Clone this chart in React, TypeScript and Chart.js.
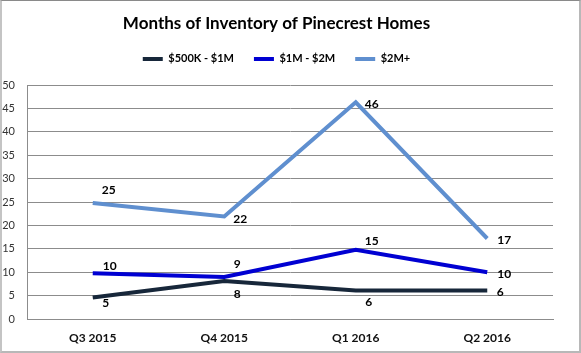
import React, { useEffect, useRef } from "react";
import { Chart, registerables } from "chart.js";

Chart.register(...registerables);

const categories = ["Q3 2015", "Q4 2015", "Q1 2016", "Q2 2016"];
const seriesNames = ["$500K - $1M", "$1M - $2M", "$2M+"];
const lowTier = [4.6, 8.1, 6.1, 6.1];
const midTier = [9.8, 9.0, 14.8, 10.0];
const highTier = [24.8, 21.9, 46.3, 17.2];
const yTicks = [0, 5, 10, 15, 20, 25, 30, 35, 40, 45, 50];

const COLORS = ["#17273a", "#0000d2", "#5f8fcf"];
const FONT = "Lato, 'Open Sans', sans-serif";

// label offsets (dx, dy) relative to each point, per dataset
const labelOffsets = [
  [[13, 6], [13, 13], [13, 12], [13, 2]],
  [[17, -7], [13, -13], [16, -9], [17, 2]],
  [[16, -13], [16, 3], [16, 2], [17, 2]],
];

const valueLabels = {
  id: "valueLabels",
  afterDatasetsDraw(chart: any) {
    const ctx = chart.ctx;
    ctx.save();
    ctx.font = `bold 12px ${FONT}`;
    ctx.fillStyle = "#000";
    ctx.textAlign = "center";
    ctx.textBaseline = "middle";
    chart.data.datasets.forEach((ds: any, di: number) => {
      const meta = chart.getDatasetMeta(di);
      meta.data.forEach((pt: any, i: number) => {
        const [dx, dy] = labelOffsets[di][i];
        ctx.fillText(String(Math.round(ds.data[i])), pt.x + dx, pt.y + dy);
      });
    });
    ctx.restore();
  },
};

// add extra space below the legend row
const legendSpacer = {
  id: "legendSpacer",
  beforeLayout(chart: any) {
    const lg = chart.legend;
    if (lg && !lg._spaced) {
      const orig = lg.fit.bind(lg);
      lg.fit = function () {
        orig();
        this.height += 10.6;
      };
      lg._spaced = true;
    }
  },
};

export default function App() {
  const ref = useRef<HTMLCanvasElement | null>(null);

  useEffect(() => {
    document.body.style.margin = "0";
    const canvas = ref.current!;
    const series = [lowTier, midTier, highTier];
    const chart = new Chart(canvas, {
      type: "line",
      data: {
        labels: categories,
        datasets: series.map((d, i) => ({
          label: seriesNames[i],
          data: d,
          borderColor: COLORS[i],
          backgroundColor: COLORS[i],
          borderWidth: 4,
          pointRadius: 0,
          tension: 0,
          fill: false,
        })),
      },
      options: {
        animation: false,
        responsive: false,
        devicePixelRatio: 1,
        layout: { padding: { left: 0, right: 28, top: 0, bottom: 0 } },
        plugins: {
          title: {
            display: true,
            text: "Months of Inventory of Pinecrest Homes",
            color: "#000",
            font: { family: FONT, size: 17, weight: "bold" },
            padding: { top: 13, bottom: 0 },
          },
          legend: {
            display: true,
            position: "top",
            labels: {
              color: "#000",
              font: { family: FONT, size: 11, weight: "bold" },
              boxWidth: 20,
              boxHeight: 4,
              padding: 20,
              generateLabels: (c: any) =>
                Chart.defaults.plugins.legend.labels
                  .generateLabels(c)
                  .map((l: any) => ({ ...l, lineWidth: 0 })),
            },
          },
          tooltip: { enabled: false },
        },
        scales: {
          x: {
            offset: true,
            afterFit: (s: any) => {
              s.height = 34;
            },
            grid: { display: false, drawTicks: false },
            border: { display: true, color: "#8c8c8c", width: 1 },
            ticks: {
              color: "#111",
              font: { family: FONT, size: 12, weight: "bold" },
              padding: 12,
            },
          },
          y: {
            min: 0,
            max: 50,
            afterBuildTicks: (s: any) => {
              s.ticks = yTicks.map((v) => ({ value: v }));
            },
            afterFit: (s: any) => {
              s.width = 27;
            },
            grid: { color: "#8c8c8c", lineWidth: 1, drawTicks: false },
            border: { display: true, color: "#8c8c8c", width: 1 },
            ticks: {
              color: "#333",
              font: { family: FONT, size: 11 },
              padding: 12,
            },
          },
        },
      },
      plugins: [legendSpacer, valueLabels],
    });
    return () => chart.destroy();
  }, []);

  return (
    <div style={{ position: "relative", width: 581, height: 353, background: "#fff" }}>
      <canvas ref={ref} width={581} height={353} style={{ display: "block" }} />
      <div
        style={{
          position: "absolute",
          left: 0,
          top: 0,
          right: 0,
          bottom: 0,
          boxSizing: "border-box",
          borderLeft: "2px solid #c4c4c4",
          borderTop: "1px solid #8a8a8a",
          borderRight: "2px solid #b8b8b8",
          borderBottom: "2px solid #b8b8b8",
          pointerEvents: "none",
        }}
      />
    </div>
  );
}
